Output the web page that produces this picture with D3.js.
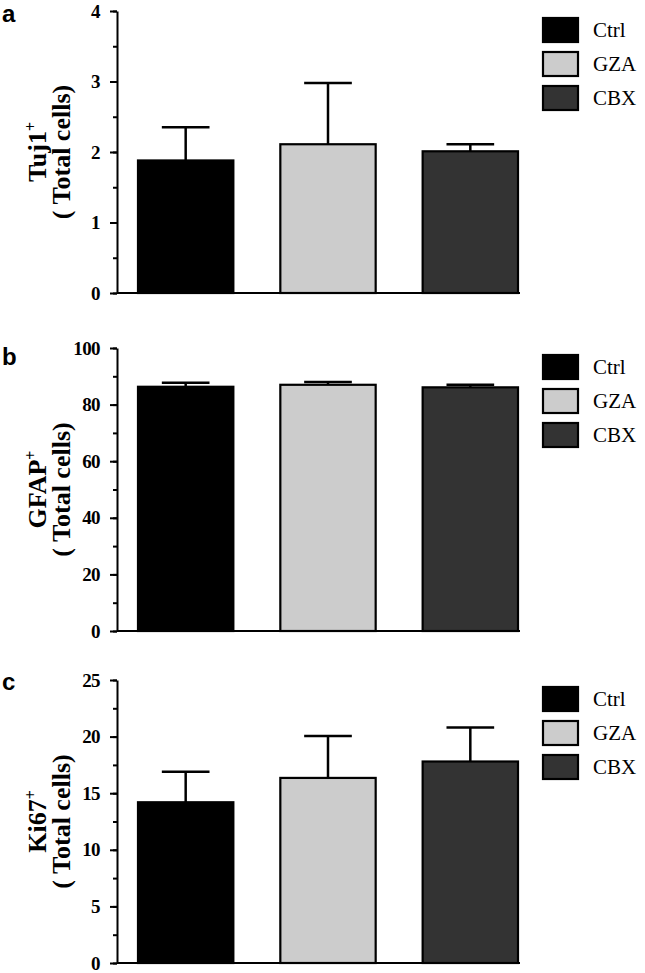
<!DOCTYPE html>
<html>
<head>
<meta charset="utf-8">
<script src="https://cdn.jsdelivr.net/npm/d3@7"></script>
<style>
  body { margin: 0; background: #fff; }
  svg { display: block; }
  .serif { font-family: "Liberation Serif", "Times New Roman", serif; }
</style>
</head>
<body>
<div id="chart"></div>
<script>
// grupos y valores
const groups = ["Ctrl", "GZA", "CBX"];

const tujMean = [1.88, 2.11, 2.01];
const tujErr  = [0.47, 0.87, 0.10];

const gfapMean = [86.3, 87.0, 86.1];
const gfapErr  = [1.4, 1.0, 0.9];

const kiMean = [14.2, 16.35, 17.8];
const kiErr  = [2.7, 3.7, 3.0];

const fills = ["#000000", "#cccccc", "#333333"];

const width = 645, height = 973;

const svg = d3.select("#chart").append("svg")
    .attr("width", width)
    .attr("height", height);

svg.append("rect").attr("width", width).attr("height", height).attr("fill", "white");

const axisX = 117;
const x = d3.scaleBand().domain(groups).range([138, 518]).paddingInner(0.33);

const panels = [
  { letter: "a", letterY: 22, top: 11, bottom: 293, max: 4, step: 1, name: "Tuj1", mean: tujMean, err: tujErr },
  { letter: "b", letterY: 365, top: 348, bottom: 631, max: 100, step: 20, name: "GFAP", mean: gfapMean, err: gfapErr },
  { letter: "c", letterY: 690, top: 680, bottom: 963, max: 25, step: 5, name: "Ki67", mean: kiMean, err: kiErr }
];

panels.forEach(p => {
  const y = d3.scaleLinear().domain([0, p.max]).range([p.bottom, p.top]);
  const g = svg.append("g");

  // letra del panel
  g.append("text")
    .attr("x", 2).attr("y", p.letterY)
    .style("font-family", "'Liberation Sans', Arial, sans-serif")
    .style("font-weight", "bold")
    .style("font-size", "24px")
    .text(p.letter);

  // barras
  g.selectAll("rect.bar").data(groups).enter().append("rect")
    .attr("class", "bar")
    .attr("x", d => x(d))
    .attr("y", (d, i) => y(p.mean[i]))
    .attr("width", x.bandwidth())
    .attr("height", (d, i) => p.bottom - y(p.mean[i]))
    .attr("fill", (d, i) => fills[i])
    .attr("stroke", "#000")
    .attr("stroke-width", 2.2);

  // barras de error
  const eb = g.selectAll("g.err").data(groups).enter().append("g").attr("class", "err");
  eb.append("line")
    .attr("x1", d => x(d) + x.bandwidth() / 2)
    .attr("x2", d => x(d) + x.bandwidth() / 2)
    .attr("y1", (d, i) => y(p.mean[i]))
    .attr("y2", (d, i) => y(p.mean[i] + p.err[i]))
    .attr("stroke", "#000").attr("stroke-width", 2.5);
  eb.append("line")
    .attr("x1", d => x(d) + x.bandwidth() / 4)
    .attr("x2", d => x(d) + x.bandwidth() * 3 / 4)
    .attr("y1", (d, i) => y(p.mean[i] + p.err[i]))
    .attr("y2", (d, i) => y(p.mean[i] + p.err[i]))
    .attr("stroke", "#000").attr("stroke-width", 2.5);

  // eje x (línea base)
  g.append("line")
    .attr("x1", axisX).attr("x2", 520)
    .attr("y1", p.bottom).attr("y2", p.bottom)
    .attr("stroke", "#000").attr("stroke-width", 2);

  // eje y: marcas menores
  const minor = d3.range(0, p.max + 1e-9, p.step / 2);
  g.append("g")
    .attr("transform", `translate(${axisX},0)`)
    .call(d3.axisLeft(y).tickValues(minor).tickSize(4).tickFormat(""))
    .call(a => a.select(".domain").remove())
    .call(a => a.selectAll("line").attr("stroke-width", 2));

  // eje y: marcas mayores
  const major = d3.range(0, p.max + 1e-9, p.step);
  g.append("g")
    .attr("transform", `translate(${axisX},0)`)
    .call(d3.axisLeft(y).tickValues(major).tickSize(7).tickSizeOuter(0).tickPadding(10).tickFormat(d3.format("d")))
    .call(a => a.select(".domain").attr("stroke-width", 2))
    .call(a => a.selectAll("line").attr("stroke-width", 2))
    .call(a => a.selectAll("text")
      .attr("class", "serif")
      .style("font-family", "'Liberation Serif', 'Times New Roman', serif")
      .style("font-weight", "bold")
      .style("font-size", "19px")
      .style("letter-spacing", "-0.6px")
      .attr("fill", "#000"));

  // título del eje y
  const cy = (p.top + p.bottom) / 2;
  const t1 = g.append("text")
    .attr("class", "serif")
    .attr("transform", `translate(46,${cy}) rotate(-90)`)
    .attr("text-anchor", "middle")
    .style("font-weight", "bold")
    .style("font-size", "26px");
  t1.append("tspan").text(p.name);
  t1.append("tspan").style("font-size", "16px").attr("dy", -10).text("+");

  g.append("text")
    .attr("class", "serif")
    .attr("transform", `translate(70,${cy}) rotate(-90)`)
    .attr("text-anchor", "middle")
    .style("font-weight", "bold")
    .style("font-size", "26px")
    .text("( Total cells)");

  // leyenda
  const lg = g.selectAll("g.leg").data(groups).enter().append("g")
    .attr("class", "leg")
    .attr("transform", (d, i) => `translate(543,${p.top + 7 + i * 34})`);
  lg.append("rect")
    .attr("width", 35).attr("height", 24)
    .attr("fill", (d, i) => fills[i])
    .attr("stroke", "#000").attr("stroke-width", 2.2);
  lg.append("text")
    .attr("class", "serif")
    .attr("x", 50).attr("y", 19)
    .style("font-size", "21px")
    .text(d => d);
});
</script>
</body>
</html>
